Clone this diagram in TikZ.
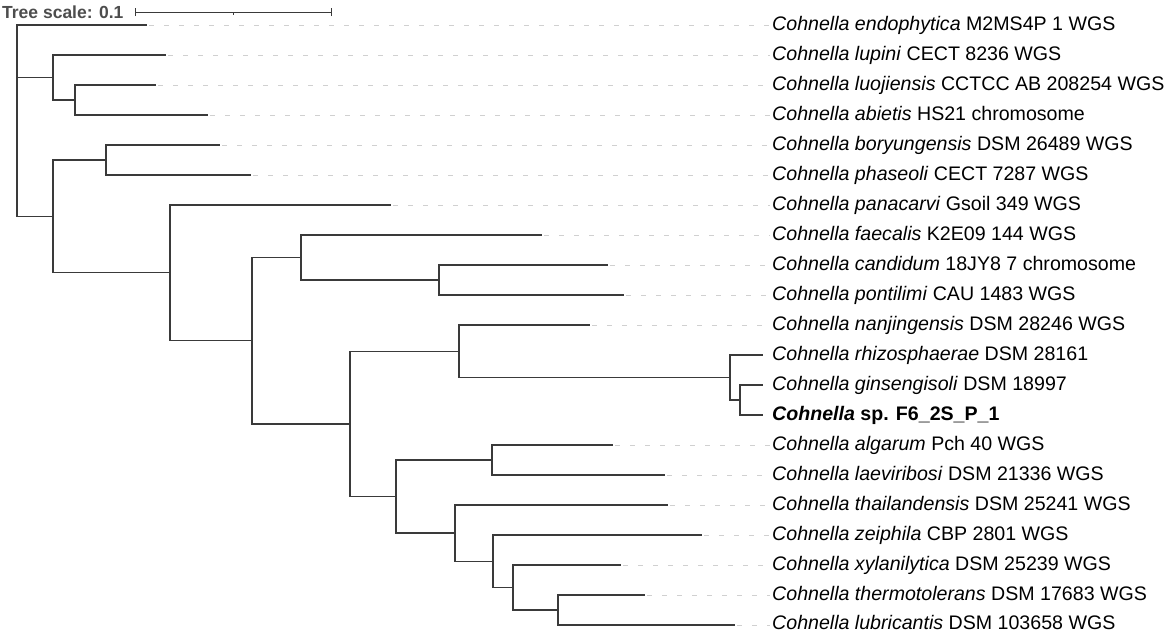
\documentclass[tikz,border=0pt]{standalone}
\usepackage{fontspec}
\setmainfont{Liberation Sans}
\definecolor{treegray}{HTML}{3A3A3A}
\definecolor{dashgray}{HTML}{D0D0D0}
\definecolor{scalegray}{HTML}{4D4D4D}
\begin{document}
\begin{tikzpicture}[x=1pt,y=-1pt,
  br/.style={draw=treegray,line width=1.3pt},
  guide/.style={draw=dashgray,line width=1pt,dash pattern=on 5pt off 10pt,shorten <=2pt,shorten >=2pt},
  lab/.style={anchor=base west,inner sep=0pt,font=\fontsize{19.6}{23}\selectfont}]
\useasboundingbox (0,0) rectangle (1170,632);
% tree scale
\node[anchor=west,inner sep=0pt,text=scalegray,font=\fontsize{17.5}{20}\selectfont\bfseries] (ts) at (2,12) {Tree scale: 0.1};
\coordinate (sa) at (135,12);
\coordinate (sb) at (331,12);
\coordinate (sm) at (233,12);
\draw[treegray,line width=1pt] (sa) -- (sb);
\draw[treegray,line width=1pt] ([yshift=-4pt]sa) -- ([yshift=4pt]sa);
\draw[treegray,line width=1pt] ([yshift=-4pt]sb) -- ([yshift=4pt]sb);
\draw[treegray,line width=1pt] (sm) -- ([yshift=-2.5pt]sm);
% leaf tips
\coordinate (t1) at (147,25);
\coordinate (t2) at (166,55);
\coordinate (t3) at (156,85);
\coordinate (t4) at (208,115);
\coordinate (t5) at (220,145);
\coordinate (t6) at (251,175);
\coordinate (t7) at (391,205);
\coordinate (t8) at (542,235);
\coordinate (t9) at (608,265);
\coordinate (t10) at (624,295);
\coordinate (t11) at (590,325);
\coordinate (t12) at (763,355);
\coordinate (t13) at (763,385);
\coordinate (t14) at (763,415);
\coordinate (t15) at (613,445);
\coordinate (t16) at (665,475);
\coordinate (t17) at (668,505);
\coordinate (t18) at (702,535);
\coordinate (t19) at (621,565);
\coordinate (t20) at (645,595);
\coordinate (t21) at (735,625);
% internal nodes
\coordinate (root) at (17,120);
\coordinate (n234) at (53,77.5);
\coordinate (n34) at (75,100);
\coordinate (n5) at (53,216.4);
\coordinate (n56) at (106,160);
\coordinate (n7) at (170,272.8);
\coordinate (n8) at (252,340.7);
\coordinate (n8a) at (301,257.5);
\coordinate (n910) at (439,280);
\coordinate (n11b) at (350,423.9);
\coordinate (n11a) at (459,351.25);
\coordinate (n12) at (730,377.5);
\coordinate (n13) at (740,400);
\coordinate (n15) at (396,496.6);
\coordinate (n1516) at (492,460);
\coordinate (n17) at (455,533.1);
\coordinate (n18) at (493,561.25);
\coordinate (n19) at (513,587.5);
\coordinate (n20) at (558,610);
% branches
\draw[br] (root) |- (t1);
\draw[br] (root) |- (n234);
\draw[br] (root) |- (n5);
\draw[br] (n234) |- (t2);
\draw[br] (n234) |- (n34);
\draw[br] (n34) |- (t3);
\draw[br] (n34) |- (t4);
\draw[br] (n5) |- (n56);
\draw[br] (n5) |- (n7);
\draw[br] (n56) |- (t5);
\draw[br] (n56) |- (t6);
\draw[br] (n7) |- (t7);
\draw[br] (n7) |- (n8);
\draw[br] (n8) |- (n8a);
\draw[br] (n8) |- (n11b);
\draw[br] (n8a) |- (t8);
\draw[br] (n8a) |- (n910);
\draw[br] (n910) |- (t9);
\draw[br] (n910) |- (t10);
\draw[br] (n11b) |- (n11a);
\draw[br] (n11b) |- (n15);
\draw[br] (n11a) |- (t11);
\draw[br] (n11a) |- (n12);
\draw[br] (n12) |- (t12);
\draw[br] (n12) |- (n13);
\draw[br] (n13) |- (t13);
\draw[br] (n13) |- (t14);
\draw[br] (n15) |- (n1516);
\draw[br] (n15) |- (n17);
\draw[br] (n1516) |- (t15);
\draw[br] (n1516) |- (t16);
\draw[br] (n17) |- (t17);
\draw[br] (n17) |- (n18);
\draw[br] (n18) |- (t18);
\draw[br] (n18) |- (n19);
\draw[br] (n19) |- (t19);
\draw[br] (n19) |- (n20);
\draw[br] (n20) |- (t20);
\draw[br] (n20) |- (t21);
% labels
\node[lab] (l1) at (772,30) {\textit{Cohnella endophytica} M2MS4P 1 WGS};
\node[lab] (l2) at (772,60) {\textit{Cohnella lupini} CECT 8236 WGS};
\node[lab] (l3) at (772,90) {\textit{Cohnella luojiensis} CCTCC AB 208254 WGS};
\node[lab] (l4) at (772,120) {\textit{Cohnella abietis} HS21 chromosome};
\node[lab] (l5) at (772,150) {\textit{Cohnella boryungensis} DSM 26489 WGS};
\node[lab] (l6) at (772,180) {\textit{Cohnella phaseoli} CECT 7287 WGS};
\node[lab] (l7) at (772,210) {\textit{Cohnella panacarvi} Gsoil 349 WGS};
\node[lab] (l8) at (772,240) {\textit{Cohnella faecalis} K2E09 144 WGS};
\node[lab] (l9) at (772,270) {\textit{Cohnella candidum} 18JY8 7 chromosome};
\node[lab] (l10) at (772,300) {\textit{Cohnella pontilimi} CAU 1483 WGS};
\node[lab] (l11) at (772,330) {\textit{Cohnella nanjingensis} DSM 28246 WGS};
\node[lab] (l12) at (772,360) {\textit{Cohnella rhizosphaerae} DSM 28161};
\node[lab] (l13) at (772,390) {\textit{Cohnella ginsengisoli} DSM 18997};
\node[lab] (l14) at (772,420) {\textbf{\textit{Cohnella} sp. F6\_2S\_P\_1}};
\node[lab] (l15) at (772,450) {\textit{Cohnella algarum} Pch 40 WGS};
\node[lab] (l16) at (772,480) {\textit{Cohnella laeviribosi} DSM 21336 WGS};
\node[lab] (l17) at (772,510) {\textit{Cohnella thailandensis} DSM 25241 WGS};
\node[lab] (l18) at (772,540) {\textit{Cohnella zeiphila} CBP 2801 WGS};
\node[lab] (l19) at (772,570) {\textit{Cohnella xylanilytica} DSM 25239 WGS};
\node[lab] (l20) at (772,600) {\textit{Cohnella thermotolerans} DSM 17683 WGS};
\node[lab] (l21) at (772,629.3) {\textit{Cohnella lubricantis} DSM 103658 WGS};
% guide lines
\foreach \i in {1,...,11,15,16,17,18,19,20,21}
  \draw[guide] (t\i) -- (t\i -| l\i.west);
\end{tikzpicture}
\end{document}
